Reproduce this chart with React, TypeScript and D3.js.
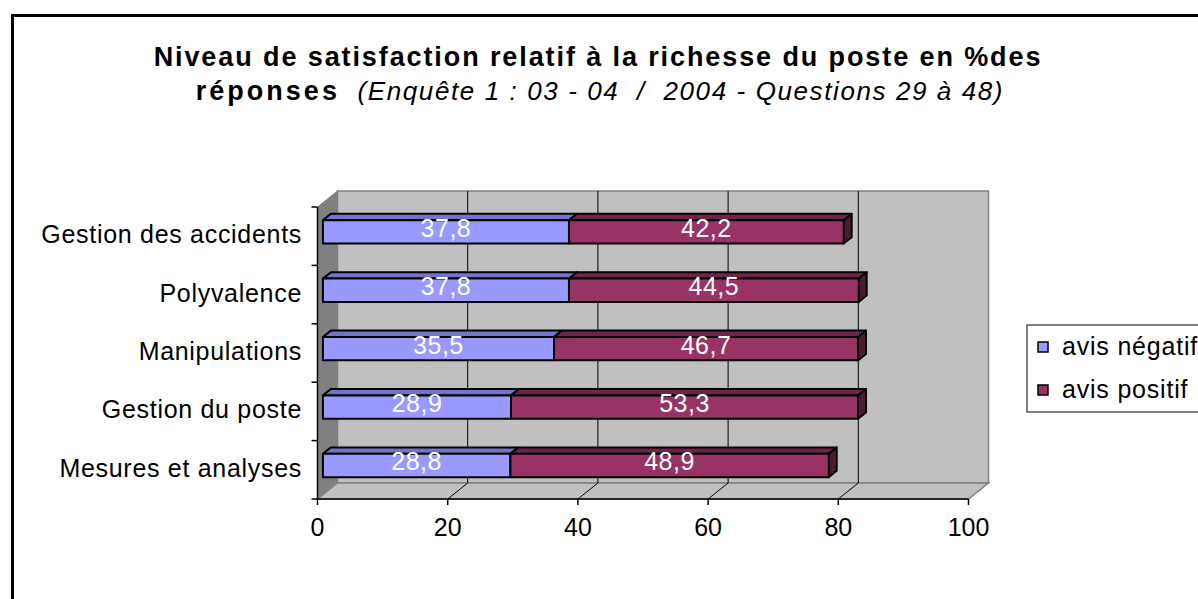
import React from "react";
import * as d3 from "d3";

const categories = [
  "Gestion des accidents",
  "Polyvalence",
  "Manipulations",
  "Gestion du poste",
  "Mesures et analyses",
];
const negatif = [37.8, 37.8, 35.5, 28.9, 28.8];
const positif = [42.2, 44.5, 46.7, 53.3, 48.9];
const xTicks = [0, 20, 40, 60, 80, 100];
const seriesNames = ["avis négatif", "avis positif"];

const W = 1198;
const H = 599;
const FONT = "'Liberation Sans', Arial, sans-serif";

// 3D depth offsets of the plot box and of the bars inside it
const DX = 20;
const DY = 16;
const F0 = 0.27;
const F1 = 0.67;

const colors = [
  { front: "#9999FF", top: "#7373CC", side: "#5C5CA8" },
  { front: "#993366", top: "#6E2549", side: "#4D1A33" },
];

const fmt = (v: number) => String(v).replace(".", ",");

export default function App() {
  const x = d3.scaleLinear().domain([0, 100]).range([317.5, 968.5]);
  const y = d3
    .scaleBand<string>()
    .domain(categories)
    .range([207, 499])
    .paddingInner(0.6)
    .paddingOuter(0.3);

  const top = 207;
  const bottom = 499;
  const x0 = x(0);
  const x1 = x(100);

  const P = (v: number, yy: number, f: number): [number, number] => [
    x(v) + DX * f,
    yy - DY * f,
  ];
  const poly = (pts: [number, number][]) => pts.map((p) => p.join(",")).join(" ");

  const bars = categories.map((c, i) => {
    const y0 = y(c)!;
    const y1 = y0 + y.bandwidth();
    const segs = [
      { v0: 0, v1: negatif[i], s: 0, label: fmt(negatif[i]) },
      { v0: negatif[i], v1: negatif[i] + positif[i], s: 1, label: fmt(positif[i]) },
    ];
    return { c, y0, y1, segs };
  });

  return (
    <svg
      width={W}
      height={H}
      style={{ position: "absolute", left: 0, top: 0, background: "#fff" }}
      fontFamily={FONT}
    >
      {/* outer chart frame */}
      <rect x={12.5} y={15.5} width={W + 20} height={H + 20} fill="#fff" stroke="#000" strokeWidth={3} />

      {/* title */}
      <text x={598} y={66} textAnchor="middle" fontSize={27} fontWeight="bold" letterSpacing={1.9} style={{ whiteSpace: "pre" }}>
        Niveau de satisfaction relatif à la richesse du poste en %des
      </text>
      <text x={600} y={100} textAnchor="middle" fontSize={26} style={{ whiteSpace: "pre" }}>
        <tspan fontWeight="bold" fontSize={27} letterSpacing={3}>réponses</tspan>
        <tspan fontStyle="italic" letterSpacing={1.6}>{"  (Enquête 1 : 03 - 04  /  2004 - Questions 29 à 48)"}</tspan>
      </text>

      {/* back wall */}
      <rect x={x0 + DX} y={top - DY} width={x1 - x0} height={bottom - top} fill="#C0C0C0" stroke="#808080" strokeWidth={1.5} />
      {/* left wall */}
      <polygon
        points={poly([[x0, top], [x0 + DX, top - DY], [x0 + DX, bottom - DY], [x0, bottom]])}
        fill="#808080"
        stroke="#808080"
      />
      {/* floor */}
      <polygon
        points={poly([[x0, bottom], [x1, bottom], [x1 + DX, bottom - DY], [x0 + DX, bottom - DY]])}
        fill="#C0C0C0"
        stroke="#808080"
        strokeWidth={1.5}
      />

      {/* gridlines on back wall and floor */}
      {xTicks.slice(1, -1).map((t) => (
        <g key={t} stroke="#000" strokeWidth={1}>
          <line x1={x(t) + DX} x2={x(t) + DX} y1={top - DY} y2={bottom - DY} />
          <line x1={x(t)} x2={x(t) + DX} y1={bottom} y2={bottom - DY} />
        </g>
      ))}

      {/* axes */}
      <line x1={x0} x2={x1} y1={bottom} y2={bottom} stroke="#000" strokeWidth={1.5} />
      <line x1={x0} x2={x0} y1={top} y2={bottom} stroke="#000" strokeWidth={1.5} />
      {xTicks.map((t) => (
        <g key={t}>
          <line x1={x(t)} x2={x(t)} y1={bottom} y2={bottom + 6} stroke="#000" strokeWidth={1.5} />
          <text x={x(t)} y={536} textAnchor="middle" fontSize={25}>
            {t}
          </text>
        </g>
      ))}
      {d3.range(categories.length + 1).map((k) => {
        const yy = top + y.step() * k;
        return <line key={k} x1={x0 - 6} x2={x0} y1={yy} y2={yy} stroke="#000" strokeWidth={1.5} />;
      })}
      {categories.map((c) => (
        <text key={c} x={302} y={y(c)! + y.bandwidth() / 2 + 7} textAnchor="end" fontSize={25} letterSpacing={0.7}>
          {c}
        </text>
      ))}

      {/* 3D stacked bars */}
      {bars.map((b) => (
        <g key={b.c} stroke="#000" strokeWidth={2} strokeLinejoin="round">
          {b.segs.map((s, j) => (
            <polygon
              key={"t" + j}
              points={poly([P(s.v0, b.y0, F0), P(s.v1, b.y0, F0), P(s.v1, b.y0, F1), P(s.v0, b.y0, F1)])}
              fill={colors[s.s].top}
            />
          ))}
          <polygon
            points={poly([
              P(b.segs[1].v1, b.y0, F0),
              P(b.segs[1].v1, b.y0, F1),
              P(b.segs[1].v1, b.y1, F1),
              P(b.segs[1].v1, b.y1, F0),
            ])}
            fill={colors[1].side}
          />
          {b.segs.map((s, j) => {
            const [ax, ay] = P(s.v0, b.y0, F0);
            const [bx, by] = P(s.v1, b.y1, F0);
            return <rect key={"f" + j} x={ax} y={ay} width={bx - ax} height={by - ay} fill={colors[s.s].front} />;
          })}
          {b.segs.map((s, j) => {
            const [ax, ay] = P(s.v0, b.y0, F0);
            const [bx, by] = P(s.v1, b.y1, F0);
            return (
              <text
                key={"l" + j}
                x={(ax + bx) / 2}
                y={(ay + by) / 2 + 5}
                textAnchor="middle"
                fontSize={25}
                letterSpacing={0.5}
                fill="#fff"
                stroke="none"
              >
                {s.label}
              </text>
            );
          })}
        </g>
      ))}

      {/* legend */}
      <rect x={1027} y={325} width={200} height={87} fill="#fff" stroke="#000" strokeWidth={1} />
      {seriesNames.map((n, i) => (
        <g key={n} transform={`translate(0, ${i * 43})`}>
          <rect x={1038} y={342} width={10} height={10} fill={colors[i].front} stroke="#000" strokeWidth={1.5} />
          <text x={1062} y={355} fontSize={25} letterSpacing={0.8}>
            {n}
          </text>
        </g>
      ))}
    </svg>
  );
}
